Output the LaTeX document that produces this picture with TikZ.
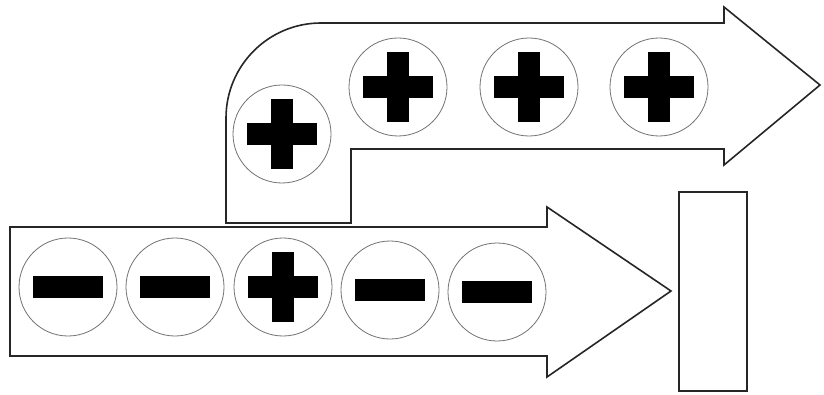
\documentclass[tikz,border=0pt]{standalone}
\begin{document}
\begin{tikzpicture}[x=1pt,y=1pt,
  arrowshape/.style={draw=black!85,line width=1.6pt,fill=white,line join=miter},
  charge/.style={circle,draw=black!55,line width=0.8pt,minimum size=98pt,inner sep=0pt},
  bar/.style={fill=black}]
\useasboundingbox (0,0) rectangle (824,394);
% bottom arrow
\draw[arrowshape] (10,167) -- (547,167) -- (547,187) -- (671,103) -- (547,17) -- (547,38) -- (10,38) -- cycle;
% top L-shaped arrow
\draw[arrowshape] (226,171) -- (226,276) arc[start angle=180,end angle=90,radius=95] -- (724,371) -- (724,387) -- (820,309) -- (724,229) -- (724,245) -- (351,245) -- (351,171) -- cycle;
% plate
\draw[draw=black!85,line width=1.6pt] (679,3) rectangle (747,202);
% charges
\node[charge] (b1) at (68,107) {};
\node[charge] (b2) at (175,107) {};
\node[charge] (b3) at (283,107) {};
\node[charge] (b4) at (390,104) {};
\node[charge] (b5) at (497,102) {};
\node[charge] (t1) at (282,260) {};
\node[charge] (t2) at (398,307) {};
\node[charge] (t3) at (529,307) {};
\node[charge] (t4) at (659,307) {};
% minus signs
\foreach \n in {b1,b2,b4,b5}{
  \fill[bar] ([shift={(-35pt,-11pt)}]\n.center) rectangle ([shift={(35pt,11pt)}]\n.center);
}
% plus signs
\foreach \n in {b3,t1,t2,t3,t4}{
  \fill[bar] ([shift={(-35pt,-11pt)}]\n.center) rectangle ([shift={(35pt,11pt)}]\n.center);
  \fill[bar] ([shift={(-11pt,-35pt)}]\n.center) rectangle ([shift={(11pt,35pt)}]\n.center);
}
\end{tikzpicture}
\end{document}
